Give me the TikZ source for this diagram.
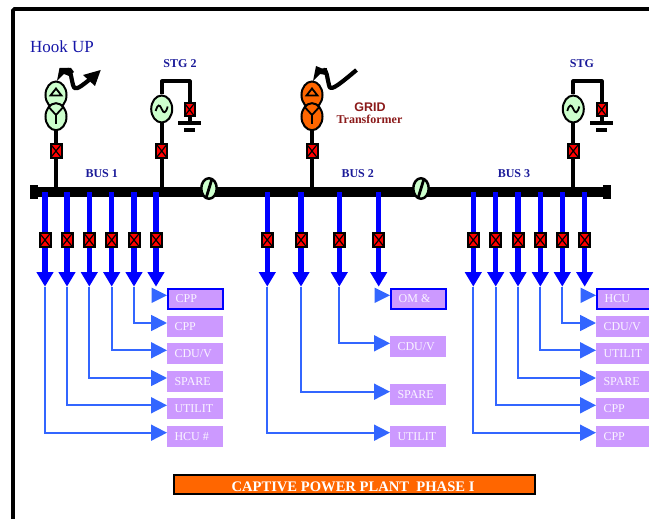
\documentclass[tikz,border=0pt]{standalone}
\usepackage{fontspec}
\setmainfont{Liberation Serif}
\newfontfamily\arialf{Liberation Sans}
\usetikzlibrary{arrows.meta,shapes.geometric}
\definecolor{feedblue}{HTML}{0000FF}
\definecolor{thinblue}{HTML}{3366FF}
\definecolor{lilac}{HTML}{CC99FF}
\definecolor{mint}{HTML}{CCFFCC}
\definecolor{grorange}{HTML}{FF6600}
\definecolor{navy}{HTML}{1A1A99}
\definecolor{dkred}{HTML}{8B1A1A}
\tikzset{
  x=1pt,y=-1pt,
  wire/.style={draw=black,line width=4pt},
  swbox/.style={rectangle,draw=black,fill=red,line width=2pt,inner sep=0pt,minimum width=11pt,minimum height=14pt,
    path picture={\draw[black,line width=1.2pt] (path picture bounding box.north west)--(path picture bounding box.south east)
      (path picture bounding box.north east)--(path picture bounding box.south west);}},
  wind/.style={ellipse,draw=black,line width=2pt,inner sep=0pt,minimum width=21pt,minimum height=27pt},
  sym/.style={draw=black,line width=1.8pt,line join=miter},
  buslabel/.style={font=\fontsize{12}{12}\selectfont\bfseries,text=navy,inner sep=0pt},
  feeder/.style={draw=feedblue,line width=5.5pt,-{Triangle[length=14.5pt,width=16pt]}},
  tap/.style={draw=thinblue,line width=1.8pt,-{Triangle[length=16pt,width=16pt]}},
  loadbox/.style={rectangle,fill=lilac,inner sep=0pt,minimum width=56pt,minimum height=21pt},
  loadtxt/.style={font=\fontsize{12}{12}\selectfont,text=white!90!lilac,inner sep=0pt,anchor=base west},
  firstbox/.style={loadbox,draw=feedblue,line width=2pt,minimum width=55pt,minimum height=20pt},
  tie/.style={ellipse,draw=black,fill=mint,line width=2.5pt,inner sep=0pt,minimum width=15.5pt,minimum height=20.5pt}
}
\newcommand{\feedline}[7]{%
  \coordinate (#1top) at (#2,192);
  \coordinate (#1tip) at (#2,286.7);
  \draw[feeder] (#1top) -- (#1tip);
  \node[swbox] (#1sw) at (#2,240) {};
  \node[#7,anchor=west] (#1box) at (#6,#3) {};
  \node[loadtxt] (#1txt) at (#6+7.3,#3+4) {#5};
  \coordinate (#1in) at (#1box.west |- {0,#4});
  \draw[tap] (#1tip) |- (#1in);
}
\newcommand{\firstfeed}[5]{%
  \coordinate (#1top) at (#2,192);
  \coordinate (#1tip) at (#2,286.7);
  \draw[feeder] (#1top) -- (#1tip);
  \node[swbox] (#1sw) at (#2,240) {};
  \node[firstbox,anchor=west] (#1box) at (#3,298.9) {};
  \node[loadtxt] (#1txt) at (#3+8.5,302.9) {#4};
  \coordinate (#1in) at (#1box.west |- {0,295.3});
  \fill[thinblue] (#1in) -- (#3-15.5,287.5) -- (#3-15.5,303) -- cycle;
}
\begin{document}
\begin{tikzpicture}
\useasboundingbox (0,0) rectangle (649,519);
\begin{scope}
\clip (0,0) rectangle (649,519);
% outer frame
\coordinate (frA) at (13,530);
\coordinate (frB) at (13,9);
\coordinate (frC) at (660,9);
\draw[black,line width=3.8pt,rounded corners=1.5pt] (frA) -- (frB) -- (frC);

\node[font=\fontsize{17}{17}\selectfont,text=navy!85!blue,inner sep=0pt,anchor=base west] (hook) at (30,53) {Hook UP};

% bus
\coordinate (busL) at (34,192);
\coordinate (busR) at (607,192);
\draw[black,line width=10pt] (busL) -- (busR);
\node[rectangle,fill=black,inner sep=0pt,minimum width=8pt,minimum height=14pt] (capL) at (34,192) {};
\node[rectangle,fill=black,inner sep=0pt,minimum width=8pt,minimum height=14pt] (capR) at (607,192) {};
\node[buslabel] (bus1) at (101.7,173.7) {BUS 1};
\node[buslabel] (bus2) at (357.7,173.7) {BUS 2};
\node[buslabel] (bus3) at (514,173.7) {BUS 3};

% bus ties
\foreach \n/\x in {tieA/209,tieB/421}{
  \node[tie] (\n) at (\x,188.5) {};
  \draw[black,line width=2.8pt] (\x+2.6,180) -- (\x-2.6,197);
}

% hook-up transformer
\node[swbox] (swH) at (56,151) {};
\node[wind,fill=mint] (hD) at (56,95) {};
\node[wind,fill=mint] (hY) at (56,116.7) {};
\draw[wire] (hY) -- (swH);
\draw[wire] (swH) -- (56,187);
\draw[sym] (50.5,95.5) -- (56,88.5) -- (61.5,95.5) -- cycle;
\draw[sym] (48.7,107) -- (56,115) -- (63.3,107) (56,115) -- (56,124);
\fill[black] (57,81) -- (59.5,68) -- (71,68) -- (74,72) -- (69,76) -- (64,74) -- cycle;
\draw[black,line width=4.2pt,line join=round] (67,69.5) .. controls (71,69) and (71,78) .. (73,85) .. controls (74,91) and (78,89) .. (89,80);
\fill[black] (100.7,70) -- (83,75) -- (95,86) -- cycle;

% grid transformer
\node[swbox] (swG) at (312,151) {};
\node[wind,fill=grorange] (gD) at (312,95) {};
\node[wind,fill=grorange] (gY) at (312,116.7) {};
\draw[wire] (gY) -- (swG);
\draw[wire] (swG) -- (312,187);
\draw[sym] (306.5,95.5) -- (312,88.5) -- (317.5,95.5) -- cycle;
\draw[sym] (304.7,107) -- (312,115) -- (319.3,107) (312,115) -- (312,124);
\fill[black] (313,81) -- (316,66) -- (322,68.5) -- (327,68) -- (326,75) -- (320,74) -- cycle;
\draw[black,line width=4.2pt,line join=round] (323,69.5) .. controls (327,69) and (327,78) .. (329,85) .. controls (330,91) and (334,89) .. (356.5,70);
\node[font=\arialf\fontsize{12.5}{12.5}\selectfont\bfseries,text=dkred,inner sep=0pt] (gridl) at (370,107) {GRID};
\node[font=\fontsize{12}{12}\selectfont\bfseries,text=dkred,inner sep=0pt] (tranl) at (369.5,119) {Transformer};

% generators
\foreach \n/\x/\xr/\lab/\lx in {A/161.7/189.5/STG 2/180,B/573.3/601.7/STG/582}{
  \node[buslabel] (lab\n) at (\lx,63.5) {\lab};
  \node[swbox] (swM\n) at (\x,151) {};
  \node[wind,fill=mint] (gen\n) at (\x,109) {};
  \draw[wire] (gen\n) -- (swM\n);
  \draw[wire] (swM\n) -- (\x,187);
  \node[swbox,minimum width=10pt,minimum height=13pt] (swE\n) at (\xr,109.7) {};
  \coordinate (gndT\n) at (\xr,123);
  \draw[wire,line join=round] (gen\n.north) -- (\x,81.5) -- (\xr,81.5) -- (swE\n.north);
  \draw[wire] (swE\n) -- (gndT\n);
  \draw[black,line width=3.6pt] (\xr-11.5,123) -- (\xr+11.5,123);
  \draw[black,line width=3.6pt] (\xr-5.5,130) -- (\xr+5.5,130);
  \draw[black,line width=1.8pt] (\x-6,111) .. controls (\x-4,104) and (\x-2,104) .. (\x,109) .. controls (\x+2,114) and (\x+4,113.5) .. (\x+6,106.5);
}

% feeders, bus 1
\firstfeed{a}{156}{167}{CPP}{}
\feedline{b}{134}{326.4}{323}{CPP}{167}{loadbox}
\feedline{c}{111.7}{353.5}{350.3}{CDU/V}{167}{loadbox}
\feedline{d}{89.3}{381.4}{378}{SPARE}{167}{loadbox}
\feedline{e}{67}{408.5}{405.3}{UTILIT}{167}{loadbox}
\feedline{f}{45}{436.4}{432.7}{HCU \#}{167}{loadbox}
% feeders, bus 2
\firstfeed{g}{378.7}{390}{OM \&}{}
\feedline{h}{339.3}{346.4}{343.3}{CDU/V}{390}{loadbox}
\feedline{i}{301}{394.8}{391.7}{SPARE}{390}{loadbox}
\feedline{j}{267.3}{436.4}{432.7}{UTILIT}{390}{loadbox}
% feeders, bus 3
\firstfeed{k}{584.7}{596}{HCU}{}
\feedline{l}{562.3}{326.4}{323}{CDU/V}{596}{loadbox}
\feedline{m}{540.3}{353.5}{350.3}{UTILIT}{596}{loadbox}
\feedline{n}{518}{381.4}{378}{SPARE}{596}{loadbox}
\feedline{o}{495.7}{408.5}{405.3}{CPP}{596}{loadbox}
\feedline{p}{473.3}{436.4}{432.7}{CPP}{596}{loadbox}

% title bar
\node[rectangle,draw=black,fill=grorange,line width=2pt,inner sep=0pt,anchor=north west,minimum width=361pt,minimum height=19.5pt] (title) at (172.7,473.7) {};
\node[font=\fontsize{14.6}{14.6}\selectfont\bfseries,text=white,inner sep=0pt,anchor=base] (titletxt) at (353,491) {CAPTIVE POWER PLANT\ \ PHASE I};
\end{scope}
\end{tikzpicture}
\end{document}
